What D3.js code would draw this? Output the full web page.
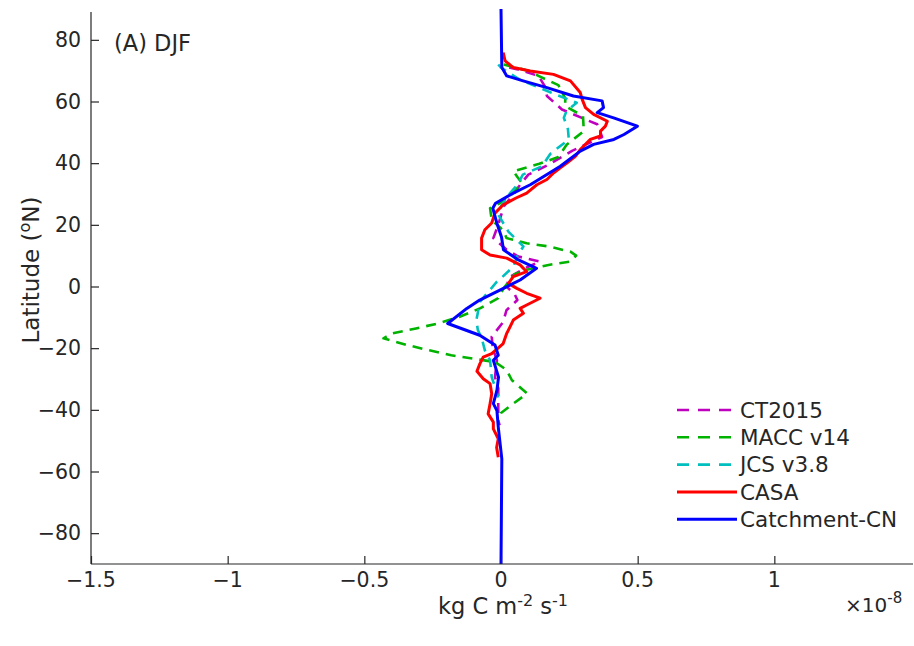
<!DOCTYPE html>
<html>
<head>
<meta charset="utf-8">
<script src="https://cdn.jsdelivr.net/npm/d3@7"></script>
<style>
  body { margin: 0; background: #fff; }
  svg text { font-family: "DejaVu Sans", sans-serif; fill: #262626; }
</style>
</head>
<body>
<svg id="chart" width="914" height="646"></svg>
<script>
// latitude (deg N) and flux (x 1e-8 kg C m-2 s-1) per product
const ct2015Lat = [71, 70.5, 68.3, 65, 61.8, 57.4, 52.6, 48.5, 44, 39.5, 36.3, 33, 29.8, 26, 23, 20, 15.7, 12, 9.7, 8.1, 6, 3, 0, -2.5, -4.4, -7.7, -11.5, -16.3, -20, -24, -29.4, -33, -37.5, -43.5, -45]
const ct2015Val = [0.03, 0.058, 0.137, 0.16, 0.168, 0.223, 0.352, 0.37, 0.26, 0.174, 0.1, 0.07, 0.045, 0.01, 0, -0.01, -0.028, 0.02, 0.064, 0.143, 0.09, 0.03, 0.02, 0.05, 0.06, 0.02, 0.008, -0.034, -0.03, -0.015, -0.022, -0.01, -0.01, -0.01, -0.005]

const maccLat = [72, 70, 68.3, 65.3, 61, 58.5, 55.3, 50.4, 46, 42, 39.8, 37.4, 35.5, 33.6, 30, 27, 25.4, 21.6, 18, 15.7, 14, 13, 11.3, 10, 8.1, 7, 5.4, 4, 2.1, -0.5, -3.8, -7.1, -9.8, -12, -13.6, -15.2, -16.8, -19, -20.7, -22.3, -23.4, -24.5, -27, -30.4, -34.7, -38.3, -41, -43]
const maccVal = [0.01, 0.1, 0.137, 0.21, 0.235, 0.235, 0.3, 0.303, 0.24, 0.21, 0.14, 0.045, 0.06, 0.076, 0.04, -0.005, -0.04, -0.034, 0.01, 0.02, 0.094, 0.174, 0.254, 0.275, 0.254, 0.174, 0.094, 0.05, 0.033, 0.01, -0.01, -0.077, -0.151, -0.231, -0.311, -0.397, -0.43, -0.343, -0.262, -0.182, -0.102, -0.022, 0.02, 0.04, 0.096, 0.04, 0, -0.01]

const jcsLat = [72, 71, 67, 63, 59.6, 57, 54.7, 51, 47.7, 43, 39, 36.3, 33, 30, 26, 23.3, 17.8, 13, 10, 6.4, 2.7, 1.6, -5, -10.9, -14, -16.9, -20.7, -23.9, -29.4, -33, -36]
const jcsVal = [-0.01, 0, 0.07, 0.18, 0.277, 0.24, 0.23, 0.245, 0.248, 0.18, 0.15, 0.08, 0.06, 0.03, 0, -0.01, 0.027, 0.082, 0.06, 0.045, 0, -0.015, -0.077, -0.09, -0.085, -0.07, -0.059, -0.04, -0.034, -0.02, -0.01]

const casaLat = [75.9, 73.2, 71, 69.9, 68.8, 66.7, 62.9, 60.7, 58, 55.8, 53.6, 52, 50.4, 48.8, 47.7, 44.4, 42.2, 40.1, 38.5, 36.8, 34.7, 33, 30.3, 28.7, 26.5, 23.8, 20.6, 18.4, 15.7, 11.9, 10.2, 9.2, 7, 4.8, 3.2, 1, -0.6, -2.2, -3.8, -6, -7.1, -8.7, -10.9, -13.1, -15.2, -18.5, -21.8, -22.9, -25, -27.5, -29.9, -31.5, -34.8, -38, -41.3, -44, -46.2, -49.4, -52.2, -55.4]
const casaVal = [0.008, 0.015, 0.045, 0.107, 0.192, 0.254, 0.29, 0.297, 0.309, 0.339, 0.389, 0.382, 0.364, 0.364, 0.327, 0.29, 0.272, 0.242, 0.217, 0.192, 0.168, 0.131, 0.094, 0.055, 0.008, -0.022, -0.034, -0.059, -0.071, -0.071, -0.04, 0.021, 0.07, 0.094, 0.045, 0.027, 0.058, 0.094, 0.143, 0.094, 0.07, 0.082, 0.045, 0.033, 0.021, 0.008, -0.034, -0.065, -0.077, -0.088, -0.065, -0.04, -0.034, -0.04, -0.047, -0.028, -0.028, -0.01, -0.016, -0.01]

const catchLat = [90, 71, 68.3, 66.7, 64.5, 61.8, 60.2, 58, 56.4, 54.7, 52, 49.3, 47.7, 46.1, 43.9, 39, 36.3, 33, 30.3, 27, 25.4, 20.5, 16, 11.9, 8.6, 5.9, 2.1, -0.1, -4.4, -7.1, -12, -15.8, -19, -22.3, -23.9, -29.4, -33.7, -38, -40.2, -45.6, -55.9, -90]
const catchVal = [0, 0.003, 0.021, 0.081, 0.168, 0.265, 0.37, 0.375, 0.352, 0.412, 0.499, 0.45, 0.413, 0.339, 0.29, 0.217, 0.168, 0.107, 0.045, -0.02, -0.03, -0.015, 0.002, 0.009, 0.064, 0.13, 0.07, 0.02, -0.078, -0.125, -0.195, -0.078, -0.022, -0.01, -0.028, -0.009, -0.015, -0.028, -0.015, -0.01, 0.003, 0]

const seriesNames = ['CT2015', 'MACC v14', 'JCS v3.8', 'CASA', 'Catchment-CN']
const xTicks = [-1.5, -1, -0.5, 0, 0.5, 1]
const yTicks = [-80, -60, -40, -20, 0, 20, 40, 60, 80]

const series = [
    { name: seriesNames[0], lat: ct2015Lat, val: ct2015Val, color: '#bf00bf', dash: '10,7', w: 2.6 },
    { name: seriesNames[1], lat: maccLat, val: maccVal, color: '#00b300', dash: '10,7', w: 2.6 },
    { name: seriesNames[2], lat: jcsLat, val: jcsVal, color: '#00bfbf', dash: '10,7', w: 2.6 },
    { name: seriesNames[3], lat: casaLat, val: casaVal, color: '#ff0000', dash: null, w: 3 },
    { name: seriesNames[4], lat: catchLat, val: catchVal, color: '#0000ff', dash: null, w: 3 }
]

const svg = d3.select('#chart')
const plotLeft = 91, plotRight = 911, plotTop = 9, plotBottom = 564

const x = d3.scaleLinear().domain([-1.5, 1.5]).range([plotLeft, plotRight])
const y = d3.scaleLinear().domain([-90, 90]).range([plotBottom, plotTop])

// lines
const line = d3.line()
    .x(d => x(d[1]))
    .y(d => y(d[0]))

series.forEach(s => {
    svg.append('path')
        .datum(s.lat.map((l, i) => [l, s.val[i]]))
        .attr('d', line)
        .attr('fill', 'none')
        .attr('stroke', s.color)
        .attr('stroke-width', s.w)
        .attr('stroke-dasharray', s.dash)
        .attr('stroke-linejoin', 'round')
})

// axes, ticks pointing inward
const fmt = d3.format('~g')
const xAxis = svg.append('g')
    .attr('transform', `translate(0,${plotBottom})`)
    .call(d3.axisTop(x).tickValues(xTicks).tickSize(8).tickFormat(''))
xAxis.select('.domain').attr('d', `M${plotLeft},0H${plotRight + 2}`)
xAxis.selectAll('line, path').attr('stroke', '#262626').attr('stroke-width', 1.2)

svg.selectAll('.xlab')
    .data(xTicks)
    .enter()
    .append('text')
    .attr('x', d => x(d))
    .attr('y', plotBottom + 23)
    .attr('text-anchor', 'middle')
    .attr('font-size', 20.5)
    .text(d => fmt(d))

const yAxis = svg.append('g')
    .attr('transform', `translate(${plotLeft},0)`)
    .call(d3.axisRight(y).tickValues(yTicks).tickSize(8).tickFormat(''))
yAxis.select('.domain').attr('d', `M0,${plotBottom}V${plotTop + 3}`)
yAxis.selectAll('line, path').attr('stroke', '#262626').attr('stroke-width', 1.2)

svg.selectAll('.ylab')
    .data(yTicks)
    .enter()
    .append('text')
    .attr('x', plotLeft - 10)
    .attr('y', d => y(d))
    .attr('dy', '0.35em')
    .attr('text-anchor', 'end')
    .attr('font-size', 20.5)
    .text(d => fmt(d))

// axis titles
const xt = svg.append('text')
    .attr('x', 503)
    .attr('y', 614)
    .attr('text-anchor', 'middle')
    .attr('font-size', 22.5)
xt.append('tspan').text('kg C m')
xt.append('tspan').attr('dy', -8).attr('font-size', 16).text('-2')
xt.append('tspan').attr('dy', 8).text(' s')
xt.append('tspan').attr('dy', -8).attr('font-size', 16).text('-1')

const mult = svg.append('text')
    .attr('x', 845)
    .attr('y', 612)
    .attr('font-size', 20)
mult.append('tspan').text('\u00d710')
mult.append('tspan').attr('dy', -9).attr('font-size', 15).text('-8')

const yt = svg.append('text')
    .attr('transform', 'translate(39,270) rotate(-90)')
    .attr('text-anchor', 'middle')
    .attr('font-size', 23)
yt.append('tspan').text('Latitude (')
yt.append('tspan').attr('dy', -9).attr('font-size', 16).text('o')
yt.append('tspan').attr('dy', 9).text('N)')

svg.append('text')
    .attr('x', 114)
    .attr('y', 51)
    .attr('font-size', 22.5)
    .text('(A) DJF')

// legend
const legend = svg.append('g')
series.forEach((s, i) => {
    const ly = 410 + i * 27.3
    legend.append('line')
        .attr('x1', 677).attr('x2', 737)
        .attr('y1', ly).attr('y2', ly)
        .attr('stroke', s.color)
        .attr('stroke-width', s.w)
        .attr('stroke-dasharray', s.dash ? '12,9' : null)
    legend.append('text')
        .attr('x', 740)
        .attr('y', ly)
        .attr('dy', '0.36em')
        .attr('font-size', 21.5)
        .text(s.name)
})
</script>
</body>
</html>
